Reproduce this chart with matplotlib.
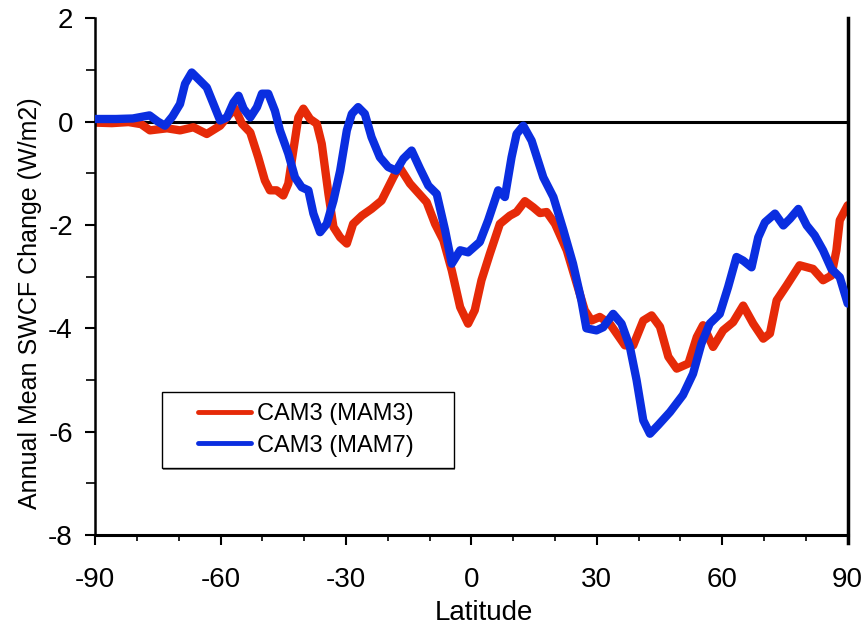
import matplotlib
matplotlib.use("Agg")
import matplotlib.pyplot as plt
from matplotlib.patches import Rectangle
import numpy as np

plt.rcParams['font.family'] = ['Liberation Sans', 'DejaVu Sans']
plt.rcParams['axes.unicode_minus'] = False

# latitude / SWCF change, CAM3 with MAM3 aerosol
lat_mam3 = [-90, -86, -82, -79, -76.9, -72.8, -69.7, -66.5, -63.3, -60.1, -58.1, -56.5,
            -54.9, -52.9, -51.0, -49.4, -48.2, -46.6, -45.0, -43.8, -42.6, -41.4, -40.2,
            -38.6, -37.0, -35.8, -34.2, -33.0, -31.4, -29.8, -28.3, -26.2, -23.9, -21.5,
            -18.7, -17.3, -14.7, -10.7, -8.7, -6.7, -4.7, -2.7, -0.8, 0.8, 2.4, 4.4, 6.8,
            9.2, 10.8, 12.8, 14.8, 16.4, 18.0, 20.0, 22.8, 25.2, 27.1, 28.7, 30.7, 33.1,
            36.7, 38.7, 41.1, 43.1, 45.1, 47.1, 49.1, 51.9, 53.9, 55.4, 57.8, 60.2, 62.6,
            65.0, 67.4, 69.8, 71.4, 73.0, 75.4, 78.5, 81.7, 84.1, 86.1, 87.3, 88.1, 90]
swcf_mam3 = [-0.02, -0.03, -0.01, -0.05, -0.17, -0.13, -0.17, -0.11, -0.24, -0.08, 0.12, 0.25,
             -0.04, -0.21, -0.69, -1.14, -1.33, -1.33, -1.43, -1.2, -0.56, 0.08, 0.25,
             0.05, -0.04, -0.43, -1.4, -2.04, -2.24, -2.36, -1.98, -1.82, -1.69, -1.53,
             -1.08, -0.87, -1.2, -1.56, -1.98, -2.3, -2.88, -3.59, -3.91, -3.65, -3.07,
             -2.56, -1.98, -1.82, -1.75, -1.54, -1.66, -1.77, -1.75, -1.98, -2.49, -3.14,
             -3.65, -3.85, -3.78, -3.91, -4.33, -4.33, -3.85, -3.75, -3.97, -4.55, -4.78,
             -4.68, -4.17, -3.94, -4.36, -4.04, -3.88, -3.56, -3.91, -4.2, -4.1, -3.46,
             -3.17, -2.78, -2.85, -3.07, -2.98, -2.49, -1.91, -1.62]

# latitude / SWCF change, CAM3 with MAM7 aerosol
lat_mam7 = [-90, -85, -81, -77, -75, -73.3, -71.5, -69.7, -68.5, -66.9, -64.9, -63.3,
            -61.7, -60.1, -58.5, -56.9, -55.7, -54.5, -52.9, -51.3, -50.1, -48.6, -47.0,
            -45.8, -43.8, -42.2, -40.6, -39.0, -37.8, -36.2, -34.6, -33.0, -31.4, -29.8,
            -28.6, -27.1, -25.5, -23.9, -21.9, -19.9, -18.0, -16.3, -14.3, -12.3, -10.3,
            -8.3, -6.3, -4.7, -2.7, -0.8, 2.0, 4.0, 6.4, 8.0, 9.6, 10.8, 12.4, 14.4, 17.2,
            19.6, 22.0, 24.3, 26.3, 27.5, 29.9, 31.5, 33.9, 35.9, 37.9, 39.5, 41.1, 42.7,
            44.7, 47.5, 50.6, 53.0, 55.0, 57.0, 59.4, 61.4, 63.4, 65.0, 67.0, 68.6, 70.2,
            72.6, 74.6, 76.2, 78.2, 80.2, 82.1, 84.1, 86.1, 88.1, 90]
swcf_mam7 = [0.05, 0.05, 0.06, 0.12, 0.0, -0.08, 0.1, 0.34, 0.73, 0.95, 0.79, 0.66,
             0.34, 0.02, 0.08, 0.37, 0.5, 0.25, 0.08, 0.28, 0.54, 0.54, 0.21,
             -0.17, -0.62, -1.08, -1.27, -1.33, -1.78, -2.14, -1.98, -1.53, -0.95, -0.17,
             0.15, 0.28, 0.15, -0.3, -0.69, -0.88, -0.95, -0.72, -0.56, -0.91, -1.24,
             -1.4, -2.1, -2.75, -2.49, -2.53, -2.33, -1.91, -1.33, -1.46, -0.69, -0.24,
             -0.08, -0.37, -1.08, -1.46, -2.1, -2.75, -3.46, -4.0, -4.04, -3.98, -3.72,
             -3.91, -4.36, -5.0, -5.78, -6.04, -5.87, -5.62, -5.29, -4.88, -4.3, -3.91,
             -3.72, -3.2, -2.62, -2.69, -2.82, -2.24, -1.95, -1.78, -2.01, -1.88, -1.69,
             -2.01, -2.2, -2.49, -2.85, -3.01, -3.52]

fig = plt.figure(figsize=(8.65, 6.28), dpi=100)
ax = fig.add_axes([0.110, 0.148, 0.870, 0.823])

ax.axhline(0, color='black', lw=2.2, zorder=1)
ax.plot(lat_mam3, swcf_mam3, color='#e62a08', lw=6, solid_joinstyle='round',
        solid_capstyle='round', label='CAM3 (MAM3)', zorder=2)
ax.plot(lat_mam7, swcf_mam7, color='#0a2ee0', lw=6, solid_joinstyle='round',
        solid_capstyle='round', label='CAM3 (MAM7)', zorder=3)

ax.set_xlim(-90, 90)
ax.set_ylim(-8, 2)
ax.set_xticks(np.arange(-90, 91, 30))
ax.set_xticks(np.arange(-90, 91, 10), minor=True)
ax.set_yticks(np.arange(-8, 3, 2))
ax.set_yticks(np.arange(-8, 3, 1), minor=True)
ax.tick_params(axis='both', which='major', direction='out', length=7, width=1.5,
               labelsize=20)
ax.tick_params(axis='both', which='minor', direction='out', length=4.5, width=1.2)
ax.tick_params(axis='y', which='minor', length=6.5)
ax.tick_params(axis='x', which='major', pad=16)
ax.tick_params(axis='y', which='major', pad=9)

for side in ['top', 'right']:
    ax.spines[side].set_visible(False)
ax.spines['left'].set_linewidth(1.8)
ax.spines['bottom'].set_linewidth(2.2)
ax.plot([1, 1], [-0.015, 1], transform=ax.transAxes, color='black', lw=2.5,
        clip_on=False)

ax.set_xlabel('Latitude', fontsize=20)
ax.xaxis.set_label_coords(0.516, -0.125)
ax.set_ylabel('Annual Mean SWCF Change (W/m2)', fontsize=18)
ax.yaxis.set_label_coords(-0.071, 0.449)

# legend box with a light drop shadow
ax.add_patch(Rectangle((0.0906, 0.126), 0.388, 0.147, transform=ax.transAxes,
                       facecolor='#888888', edgecolor='none', zorder=4))
ax.add_patch(Rectangle((0.0886, 0.130), 0.388, 0.147, transform=ax.transAxes,
                       facecolor='white', edgecolor='black', lw=1.0, zorder=5))
leg = ax.legend(loc='center left', bbox_to_anchor=(0.1368, 0.2035), frameon=False,
                fontsize=17, borderpad=0, borderaxespad=0, handlelength=2.25,
                handletextpad=0.25, labelspacing=0.4)
leg.set_zorder(6)
for line in leg.get_lines():
    line.set_linewidth(3.5)

fig.savefig('out.png', dpi=100)
